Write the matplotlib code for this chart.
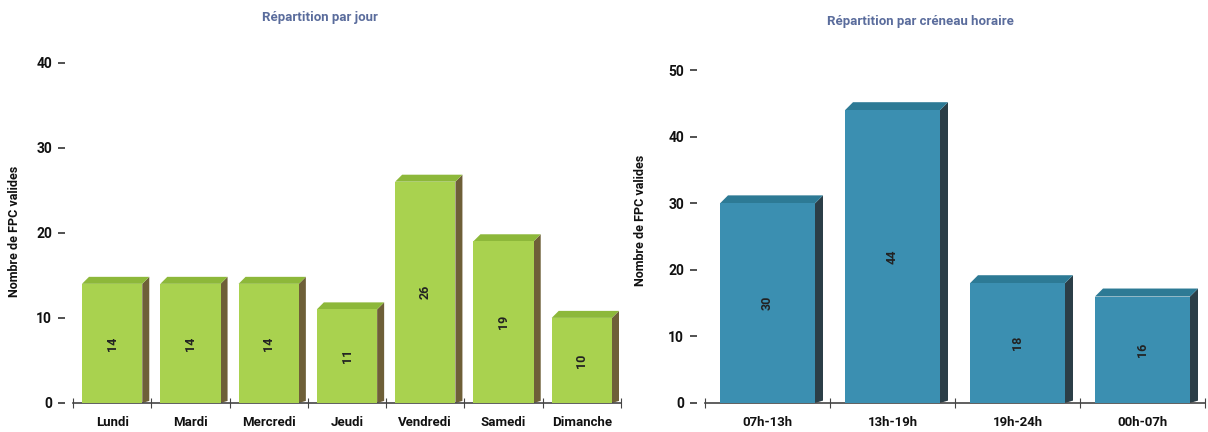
import matplotlib
matplotlib.use("Agg")
import matplotlib.pyplot as plt
import numpy as np

# donnees
jours = ["Lundi", "Mardi", "Mercredi", "Jeudi", "Vendredi", "Samedi", "Dimanche"]
nb_jours = [14, 14, 14, 11, 26, 19, 10]

creneaux = ["07h-13h", "13h-19h", "19h-24h", "00h-07h"]
nb_creneaux = [30, 44, 18, 16]

plt.rcParams["font.family"] = ["Roboto", "DejaVu Sans"]

W, H = 1208, 432
fig = plt.figure(figsize=(W / 100, H / 100), dpi=100)
fig.patch.set_facecolor("white")


def barres3d(ax, noms, valeurs, ymax, largeur, couleurs, depth_px=7):
    n = len(noms)
    x = np.arange(n)
    ax.set_xlim(-0.5, n - 0.5)
    ax.set_ylim(0, ymax)
    fig.canvas.draw()
    # conversion px -> donnees pour la profondeur
    bbox = ax.get_window_extent()
    dx = depth_px * (n) / bbox.width
    dy = depth_px * ymax / bbox.height
    face, dessus, cote = couleurs
    for xi, v in zip(x, valeurs):
        g, d = xi - largeur / 2, xi + largeur / 2
        ax.fill([d, d + dx, d + dx, d], [0, dy * 0.3, v + dy, v], color=cote, lw=0, zorder=2)
        ax.fill([g, g + dx, d + dx, d], [v, v + dy, v + dy, v], color=dessus, lw=0, zorder=2)
        ax.bar(xi, v, width=largeur, color=face, lw=0, zorder=3)
        ax.text(xi, v / 2, str(v), rotation=90, ha="center", va="center",
                fontsize=9, fontweight="bold", color="#222222", zorder=4)

    for s in ["top", "right", "left"]:
        ax.spines[s].set_visible(False)
    ax.spines["bottom"].set_color("#444444")
    ax.spines["bottom"].set_linewidth(1.2)
    ax.spines["left"].set_position(("outward", 6))
    ax.set_xticks(np.arange(n + 1) - 0.5)
    ax.set_xticklabels([])
    ax.set_xticks(x, minor=True)
    ax.set_xticklabels(noms, minor=True, fontsize=9.5, fontweight="bold", color="#111111")
    ax.tick_params(axis="x", which="major", direction="inout", length=7, color="#444444")
    ax.tick_params(axis="x", which="minor", length=0, pad=9)
    ax.tick_params(axis="y", length=5, width=1.2, color="#333333", labelsize=10, pad=4)
    for lab in ax.get_yticklabels():
        lab.set_fontweight("bold")
        lab.set_color("#111111")
    ax.set_ylabel("Nombre de FPC valides", fontsize=9, fontweight="bold", color="#111111")


titre_couleur = "#5a6c9c"

ax1 = fig.add_axes([73 / W, 29 / H, 548 / W, 366 / H])
barres3d(ax1, jours, nb_jours, 43, 0.77, ("#a9d24f", "#8db83a", "#6e5f38"))
ax1.set_yticks([0, 10, 20, 30, 40])
for lab in ax1.get_yticklabels():
    lab.set_fontweight("bold")
ax1.yaxis.set_label_coords(-0.095, 0.47)
fig.text(320 / W, 1 - 18 / H, "Répartition par jour", ha="center", va="center",
         fontsize=9.5, fontweight="bold", color=titre_couleur)

ax2 = fig.add_axes([705 / W, 29 / H, 500 / W, 366 / H])
barres3d(ax2, creneaux, nb_creneaux, 55, 0.76, ("#3b8fb1", "#2d7a95", "#2b3e47"), depth_px=8)
ax2.set_yticks([0, 10, 20, 30, 40, 50])
for lab in ax2.get_yticklabels():
    lab.set_fontweight("bold")
ax2.yaxis.set_label_coords(-0.115, 0.5)
fig.text(920 / W, 1 - 22 / H, "Répartition par créneau horaire", ha="center", va="center",
         fontsize=9.5, fontweight="bold", color=titre_couleur)

fig.savefig("out.png", dpi=100, facecolor="white")
